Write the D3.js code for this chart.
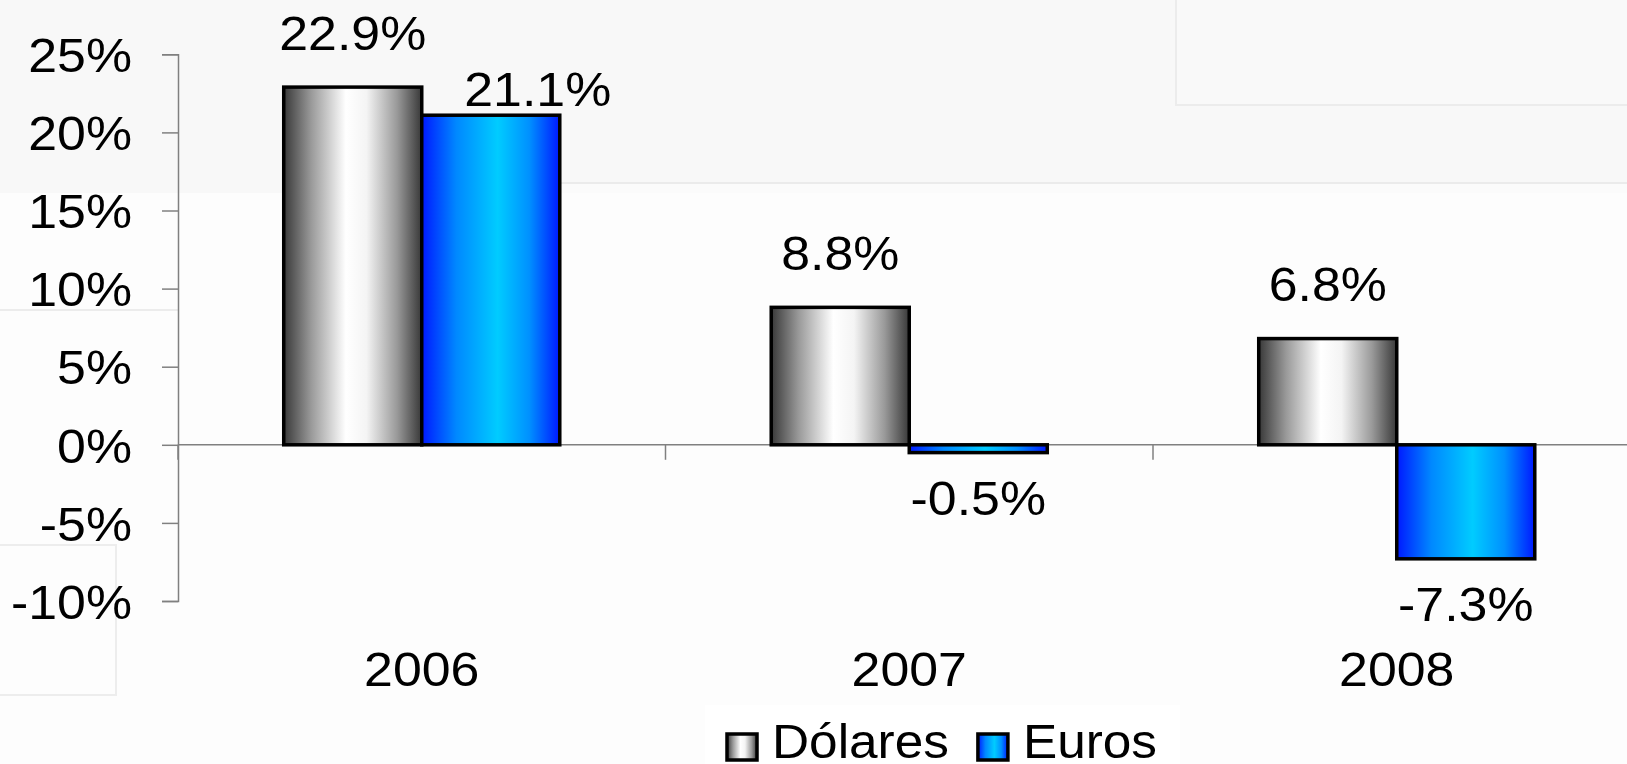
<!DOCTYPE html>
<html>
<head>
<meta charset="utf-8">
<script src="https://cdn.jsdelivr.net/npm/d3@7"></script>
<style>
  body { margin: 0; background: #fcfcfc; }
  svg { display: block; }
  text { font-family: Arial, "Liberation Sans", sans-serif; fill: #000; }
</style>
</head>
<body>
<div id="chart"></div>
<script>
// data
var years = ["2006", "2007", "2008"];
var seriesNames = ["Dólares", "Euros"];
var dolares = [22.9, 8.8, 6.8];
var euros = [21.1, -0.5, -7.3];
var yTicks = [-10, -5, 0, 5, 10, 15, 20, 25];

var width = 1627;
var height = 764;
var fontSize = 48;
var stretch = 1.08; // text in the original looks widened

var svg = d3.select("#chart").append("svg")
  .attr("width", width)
  .attr("height", height);

// background pieces of the slide behind the chart
var bg = svg.append("g");
bg.append("rect").attr("x", 0).attr("y", 0).attr("width", width).attr("height", height).attr("fill", "#fdfdfd");
bg.append("rect").attr("x", 0).attr("y", 0).attr("width", width).attr("height", 193).attr("fill", "#f8f8f8");
bg.append("rect").attr("x", 560).attr("y", 183).attr("width", width - 560).attr("height", 10).attr("fill", "#fbfbfb");
bg.append("line").attr("x1", 560).attr("x2", width).attr("y1", 183).attr("y2", 183)
  .attr("stroke", "#ebebeb").attr("stroke-width", 2);
bg.append("rect").attr("x", 1176).attr("y", -2).attr("width", 460).attr("height", 107)
  .attr("fill", "#f9f9f9").attr("stroke", "#ececec").attr("stroke-width", 2);
bg.append("line").attr("x1", 0).attr("x2", 178).attr("y1", 310).attr("y2", 310)
  .attr("stroke", "#ececec").attr("stroke-width", 2);
bg.append("rect").attr("x", -2).attr("y", 545).attr("width", 118).attr("height", 150)
  .attr("fill", "#fdfdfd").attr("stroke", "#ededed").attr("stroke-width", 2);
bg.append("rect").attr("x", 705).attr("y", 705).attr("width", 475).attr("height", 70).attr("fill", "#ffffff");

// gradients
var defs = svg.append("defs");
function addGradient(id, stops) {
  var g = defs.append("linearGradient").attr("id", id)
    .attr("x1", "0%").attr("x2", "100%").attr("y1", "0%").attr("y2", "0%");
  stops.forEach(function(s) {
    g.append("stop").attr("offset", s[0]).attr("stop-color", s[1]);
  });
}
addGradient("gradDol", [["0%", "#383838"], ["20%", "#9a9a9a"], ["45%", "#ffffff"], ["60%", "#f4f4f4"], ["82%", "#9a9a9a"], ["100%", "#383838"]]);
addGradient("gradEur", [["0%", "#0018ff"], ["25%", "#0088ff"], ["55%", "#00ccff"], ["78%", "#0090ff"], ["100%", "#0018ff"]]);
var fills = {"Dólares": "url(#gradDol)", "Euros": "url(#gradEur)"};

var margin = {left: 178, top: 54.3};
var y = d3.scaleLinear().domain([-10, 25]).range([601, 54.3]);

var x = d3.scaleBand().domain(years).range([margin.left, margin.left + 3 * 487.5]);
var xSub = d3.scaleBand().domain(seriesNames).range([0, x.bandwidth()])
  .paddingInner(0).paddingOuter(0.766);

var rows = years.map(function(yr, i) {
  return {year: yr, values: [{name: "Dólares", v: dolares[i]}, {name: "Euros", v: euros[i]}]};
});

// x axis line and category ticks
svg.append("line")
  .attr("x1", margin.left).attr("x2", width)
  .attr("y1", y(0)).attr("y2", y(0))
  .attr("stroke", "#808080").attr("stroke-width", 1.5);
svg.append("g").selectAll("line")
  .data(years)
  .enter().append("line")
  .attr("x1", d => x(d)).attr("x2", d => x(d))
  .attr("y1", y(0)).attr("y2", y(0) + 15)
  .attr("stroke", "#808080").attr("stroke-width", 1.5);

// y axis
var yAxis = svg.append("g")
  .attr("transform", `translate(${margin.left},0)`)
  .call(d3.axisLeft(y).tickValues(yTicks).tickSize(16).tickSizeOuter(16).tickFormat(d => d + "%"));
yAxis.attr("font-size", fontSize).attr("font-family", "Arial, 'Liberation Sans', sans-serif");
yAxis.select(".domain").attr("stroke", "#808080").attr("stroke-width", 1.5);
yAxis.selectAll(".tick line").attr("stroke", "#808080").attr("stroke-width", 1.5);
yAxis.selectAll(".tick text")
  .attr("fill", "#000")
  .attr("transform", `scale(${stretch},1)`)
  .attr("x", -46 / stretch)
  .attr("dy", "0.36em");

// bars
var groups = svg.append("g").selectAll("g")
  .data(rows)
  .enter().append("g")
  .attr("transform", d => `translate(${x(d.year)},0)`);

groups.selectAll("rect")
  .data(d => d.values)
  .enter().append("rect")
  .attr("x", d => xSub(d.name))
  .attr("width", xSub.bandwidth())
  .attr("y", d => y(Math.max(0, d.v)))
  .attr("height", d => Math.abs(y(d.v) - y(0)))
  .attr("fill", d => fills[d.name])
  .attr("stroke", "#000")
  .attr("stroke-width", 3.5);

// value labels (the 2006 euro label was moved aside in the original)
function fmt(v) { return v.toFixed(1) + "%"; }
groups.selectAll("text")
  .data(d => d.values.map(v => Object.assign({year: d.year}, v)))
  .enter().append("text")
  .attr("text-anchor", "middle")
  .attr("font-size", fontSize)
  .attr("transform", function(d) {
    var cx = xSub(d.name) + xSub.bandwidth() / 2;
    var ty = d.v >= 0 ? y(d.v) - 37.5 : y(d.v) + 62;
    if (d.year == "2006" && d.name == "Euros") {
      cx += 47;
      ty = y(d.v) - 9;
    }
    return `translate(${cx},${ty}) scale(${stretch},1)`;
  })
  .text(d => fmt(d.v));

// category labels
svg.append("g").selectAll("text")
  .data(years)
  .enter().append("text")
  .attr("text-anchor", "middle")
  .attr("font-size", fontSize)
  .attr("transform", d => `translate(${x(d) + x.bandwidth() / 2},686) scale(${stretch},1)`)
  .text(d => d);

// legend
var legend = svg.append("g");
var lx = 727;
seriesNames.forEach(function(name) {
  legend.append("rect")
    .attr("x", lx).attr("y", 734)
    .attr("width", 30).attr("height", 26)
    .attr("fill", fills[name])
    .attr("stroke", "#000").attr("stroke-width", 3.5);
  var t = legend.append("text")
    .attr("font-size", fontSize)
    .attr("transform", `translate(${lx + 45},758) scale(1.07,1)`)
    .text(name);
  lx = lx + 45 + t.node().getComputedTextLength() * 1.07 + 29;
});
</script>
</body>
</html>
